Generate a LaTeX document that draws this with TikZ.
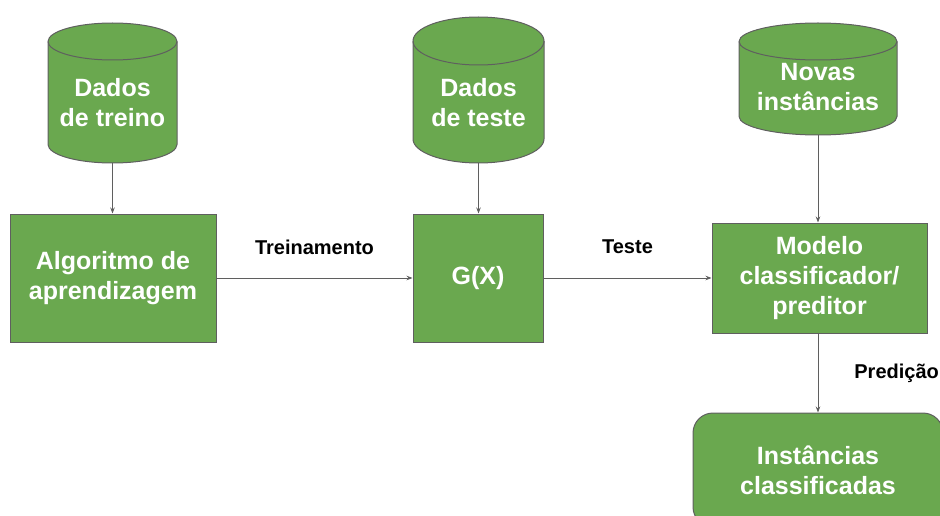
\documentclass[tikz,border=0pt]{standalone}
\usepackage{fontspec}
\setmainfont{Liberation Sans}
\usetikzlibrary{arrows.meta}
\definecolor{flowgreen}{HTML}{6AA84F}
\definecolor{flowedge}{HTML}{5F5F5F}
\newcommand{\boxfont}{\bfseries\fontsize{25}{30}\selectfont}
\newcommand{\labelfont}{\bfseries\fontsize{20}{22}\selectfont}
% name, x, top, bottom, half width, end radius, text y, text
\newcommand{\datacyl}[8]{%
  \filldraw[draw=flowedge, fill=flowgreen, line width=1pt]
    ({#2-#5},{#3-#6}) -- ({#2-#5},{#4+#6})
    arc[start angle=180, end angle=360, x radius=#5pt, y radius=#6pt]
    -- ({#2+#5},{#3-#6})
    arc[start angle=0, end angle=180, x radius=#5pt, y radius=#6pt] -- cycle;
  \draw[flowedge, line width=1pt] ({#2-#5},{#3-#6})
    arc[start angle=180, end angle=360, x radius=#5pt, y radius=#6pt];
  \coordinate (#1-bottom) at (#2,#4);
  \node[celltext] (#1) at (#2,#7) {#8};
}
\tikzset{
  celltext/.style={text=white, font=\boxfont, align=center, inner sep=0pt},
  procbox/.style={rectangle, draw=flowedge, line width=1pt, fill=flowgreen,
    text=white, font=\boxfont, align=center, inner sep=0pt},
  flowarrow/.style={draw=flowedge, line width=0.8pt,
    -{Stealth[length=6pt, width=4.5pt]}},
  flowlabel/.style={font=\labelfont, text=black, inner sep=0pt}
}

\begin{document}
\begin{tikzpicture}[x=1pt, y=1pt]
  \useasboundingbox (0,0) rectangle (940,-516);

  % data sources
  \datacyl{treino}{112.5}{-23}{-163}{64.5}{18.5}{-103}{Dados\\de treino}
  \datacyl{teste}{478.5}{-17}{-163}{65.5}{24}{-103}{Dados\\de teste}
  \datacyl{novas}{818}{-23}{-135}{79}{18.5}{-87}{Novas\\instâncias}

  % processing row
  \node[procbox, minimum width=206pt, minimum height=128pt] (algoritmo) at (113,-278) {Algoritmo de\\aprendizagem};
  \node[procbox, minimum width=130pt, minimum height=128pt] (gx) at (478,-278) {G(X)};
  \node[procbox, minimum width=215pt, minimum height=110pt] (modelo) at (819.5,-278) {Modelo\\classificador/\\preditor};

  \node[procbox, rounded corners=20pt, minimum width=250pt, minimum height=114pt] (classificadas) at (818,-470) {Instâncias\\classificadas};

  \draw[flowarrow] (treino-bottom) -- (treino-bottom |- algoritmo.north);
  \draw[flowarrow] (teste-bottom) -- (teste-bottom |- gx.north);
  \draw[flowarrow] (novas-bottom) -- (novas-bottom |- modelo.north);

  \draw[flowarrow] (algoritmo.east) -- node[flowlabel, yshift=31pt] (treinamento) {Treinamento} (gx.west);
  \draw[flowarrow] (gx.east) -- node[flowlabel, yshift=31pt] (testelabel) {Teste} (modelo.west);
  \draw[flowarrow] (modelo.south -| classificadas.north) -- node[flowlabel, anchor=west, xshift=36pt] (predicao) {Predição} (classificadas.north);

\end{tikzpicture}
\end{document}
